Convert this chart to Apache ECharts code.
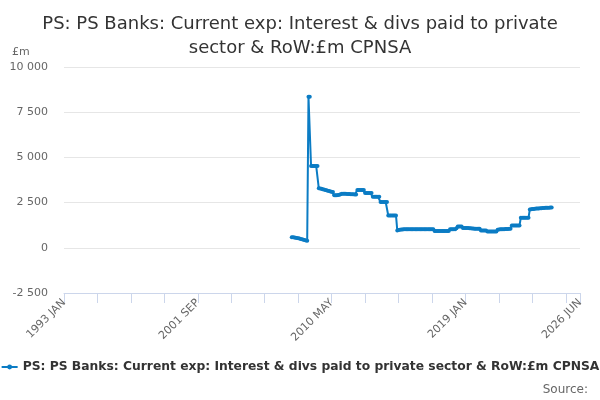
<!DOCTYPE html>
<html>
<head>
<meta charset="utf-8">
<script src="https://cdn.jsdelivr.net/npm/echarts@6/dist/echarts.min.js"></script>
<style>
html,body{margin:0;padding:0;background:#fff;}
#chart{width:600px;height:400px;}
</style>
</head>
<body>
<div id="chart"></div>
<script>
// Axis range (monthly categories)
var startYear = 1993;
var endYear = 2026;
var endMonthIndex = 5; // JUN
var monthNames = ['JAN','FEB','MAR','APR','MAY','JUN','JUL','AUG','SEP','OCT','NOV','DEC'];

// Series: first observation 2007 OCT, last 2024 AUG (£m)
var firstObs = '2007 OCT';
var v2007 = [590, 585, 575];
var v2008 = [560, 545, 530, 510, 490, 470, 450, 430, 410, 390, 8350, 8350];
var v2009 = [4520, 4520, 4520, 4520, 4520, 4520, 3300, 3280, 3260, 3240, 3220, 3200];
var v2010 = [3180, 3160, 3140, 3120, 3100, 3080, 2900, 2900, 2900, 2920, 2940, 2960];
var v2011 = [2990, 2990, 2990, 2985, 2980, 2975, 2970, 2965, 2960, 2955, 2950, 2950];
var v2012 = [3200, 3200, 3200, 3200, 3200, 3200, 3030, 3030, 3030, 3030, 3030, 3030];
var v2013 = [2820, 2820, 2820, 2820, 2820, 2820, 2530, 2530, 2530, 2530, 2530, 2530];
var v2014 = [1790, 1790, 1790, 1790, 1790, 1790, 1790, 960, 980, 1000, 1010, 1015];
var v2015 = [1020, 1020, 1020, 1020, 1020, 1020, 1020, 1020, 1020, 1020, 1020, 1020];
var v2016 = [1025, 1025, 1025, 1025, 1025, 1025, 1025, 1025, 1025, 1025, 1025, 1025];
var v2017 = [930, 930, 930, 930, 930, 930, 930, 930, 930, 930, 930, 930];
var v2018 = [1020, 1020, 1020, 1020, 1020, 1080, 1180, 1180, 1180, 1180, 1100, 1090];
var v2019 = [1090, 1090, 1090, 1080, 1080, 1070, 1070, 1060, 1060, 1050, 1050, 1050];
var v2020 = [960, 960, 960, 960, 960, 900, 900, 900, 900, 900, 900, 900];
var v2021 = [900, 1000, 1010, 1020, 1020, 1030, 1030, 1040, 1040, 1040, 1050, 1050];
var v2022 = [1240, 1240, 1240, 1240, 1240, 1240, 1240, 1660, 1660, 1660, 1660, 1660];
var v2023 = [1660, 1660, 2120, 2130, 2140, 2150, 2160, 2170, 2170, 2180, 2190, 2190];
var v2024 = [2200, 2200, 2210, 2210, 2220, 2220, 2230, 2230];

var yTicks = [-2500, 0, 2500, 5000, 7500, 10000];
var seriesName = 'PS: PS Banks: Current exp: Interest & divs paid to private sector & RoW:£m CPNSA';
var titleText = 'PS: PS Banks: Current exp: Interest & divs paid to private\nsector & RoW:£m CPNSA';

// Build categories
var categories = [];
for (var y = startYear; y <= endYear; y++) {
  for (var m = 0; m < 12; m++) {
    if (y === endYear && m > endMonthIndex) break;
    categories.push(y + ' ' + monthNames[m]);
  }
}
var observed = [].concat(v2007, v2008, v2009, v2010, v2011, v2012, v2013, v2014, v2015,
  v2016, v2017, v2018, v2019, v2020, v2021, v2022, v2023, v2024);
var firstIdx = categories.indexOf(firstObs);
var data = categories.map(function (c, i) {
  var k = i - firstIdx;
  return (k >= 0 && k < observed.length) ? observed[k] : null;
});
var lastIdx = categories.length - 1;

function fmt(v) {
  var s = String(Math.abs(v)).replace(/\B(?=(\d{3})+(?!\d))/g, ' ');
  return (v < 0 ? '-' : '') + s;
}

var chart = echarts.init(document.getElementById('chart'), null, {renderer: 'canvas'});
chart.setOption({
  animation: false,
  backgroundColor: '#ffffff',
  textStyle: {fontFamily: 'DejaVu Sans'},
  title: {
    text: titleText,
    left: 'center',
    top: 7,
    textStyle: {fontSize: 18, fontWeight: 'normal', color: '#333333', lineHeight: 24, fontFamily: 'DejaVu Sans'}
  },
  graphic: [
    {type: 'text', left: 12, top: 47, style: {text: '£m', fontSize: 11, fill: '#666666', fontFamily: 'DejaVu Sans'}},
    {type: 'text', right: 12, top: 384, style: {text: 'Source:', fontSize: 12, fill: '#666666', fontFamily: 'DejaVu Sans'}}
  ],
  legend: {
    bottom: 22,
    left: 'center',
    itemWidth: 16,
    itemHeight: 6,
    itemGap: 4,
    textStyle: {fontSize: 12.3, fontWeight: 'bold', color: '#333333', fontFamily: 'DejaVu Sans'},
    data: [seriesName]
  },
  grid: {left: 64, right: 20, top: 67, bottom: 107, containLabel: false},
  xAxis: {
    type: 'category',
    data: categories,
    boundaryGap: false,
    axisLine: {onZero: false, lineStyle: {color: '#ccd6eb'}},
    axisTick: {
      length: 10,
      lineStyle: {color: '#ccd6eb'},
      interval: function (i) { return i % 26 === 0 || i === lastIdx; }
    },
    axisLabel: {
      rotate: 45,
      fontSize: 11,
      color: '#666666',
      margin: 8,
      showMaxLabel: true,
      interval: function (i) { return i % 104 === 0 || i === lastIdx; }
    },
    splitLine: {show: false}
  },
  yAxis: {
    type: 'value',
    min: yTicks[0],
    max: yTicks[yTicks.length - 1],
    interval: 2500,
    axisLine: {show: false},
    axisTick: {show: false},
    axisLabel: {fontSize: 11, color: '#666666', margin: 16, formatter: fmt},
    splitLine: {lineStyle: {color: '#e6e6e6'}}
  },
  series: [{
    name: seriesName,
    type: 'line',
    data: data,
    connectNulls: false,
    showAllSymbol: true,
    symbol: 'circle',
    symbolSize: 4,
    color: '#0b7cc4',
    lineStyle: {width: 2, color: '#0b7cc4'},
    itemStyle: {color: '#0b7cc4'}
  }]
});
</script>
</body>
</html>
